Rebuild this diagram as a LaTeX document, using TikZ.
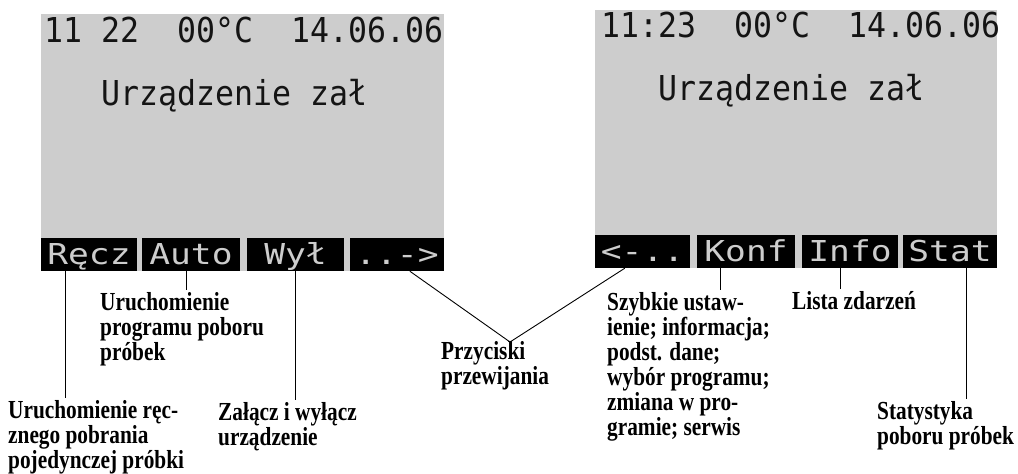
\documentclass[tikz,border=0pt]{standalone}
\usepackage{fontspec}
\setmainfont{Liberation Serif}
\newfontfamily\lcdfont[FakeStretch=0.92]{DejaVu Sans Mono}
\newfontfamily\keyfont[FakeStretch=1.2]{DejaVu Sans Mono}
\newfontfamily\labelfont[FakeStretch=0.82]{Liberation Serif}
\usetikzlibrary{calc}
\definecolor{lcdgrey}{RGB}{205,205,205}
\definecolor{lcdink}{RGB}{20,20,20}
% stacked caption lines, 25pt apart, baseline of the box = first line
\newcommand{\lbllines}[1]{\vtop{\let\\\cr\baselineskip=25pt\lineskiplimit=-30pt\lineskip=0pt
  \halign{##\hfil\cr#1\crcr}}}
\tikzset{
  screen/.style={fill=lcdgrey, draw=none},
  lcdtext/.style={anchor=base west, inner sep=0pt, text=lcdink,
    font=\lcdfont\fontsize{34.3}{36}\selectfont},
  softkey/.style={fill=black, draw=none, inner sep=0pt, text=lcdgrey,
    minimum width=96pt, minimum height=33pt, text height=21pt, text depth=2pt,
    font=\keyfont\fontsize{28.8}{30}\selectfont},
  caption/.style={anchor=base west, inner sep=0pt,
    font=\labelfont\bfseries\fontsize{26}{25}\selectfont},
  leader/.style={draw=black, line width=0.9pt}
}
\begin{document}
\begin{tikzpicture}[x=1pt, y=-1pt]
\useasboundingbox (0,0) rectangle (1018,474);

% left display
\fill[screen] (41,14) rectangle (444,271);
\node[lcdtext] (lTop) at (44,42) {11~22~~00°C~~14.06.06};
\node[lcdtext] (lMsg) at (101,105) {Urządzenie zał};
\node[softkey, minimum width=96pt]  (kRecz) at (89,254.5)   {Ręcz};
\node[softkey, minimum width=98pt]  (kAuto) at (191,254.5)  {Auto};
\node[softkey, minimum width=97pt]  (kWyl)  at (295.5,254.5){Wył};
\node[softkey, minimum width=94pt]  (kNext) at (397,254.5)  {..->};

% right display
\fill[screen] (595,10) rectangle (997,268);
\node[lcdtext] (rTop) at (601,37) {11:23~~00°C~~14.06.06};
\node[lcdtext] (rMsg) at (658,100) {Urządzenie zał};
\node[softkey, minimum width=95pt]  (kPrev) at (642.5,251.5) {<-..};
\node[softkey, minimum width=98pt]  (kKonf) at (746,251.5)   {Konf};
\node[softkey, minimum width=96pt]  (kInfo) at (850,251.5)   {Info};
\node[softkey, minimum width=94pt]  (kStat) at (950,251.5)   {Stat};

% captions
\node[caption] (lRecz) at (8,418)
  {\lbllines{Uruchomienie ręc-\\znego pobrania\\pojedynczej próbki}};
\node[caption] (lAuto) at (100,310)
  {\lbllines{Uruchomienie\\programu poboru\\próbek}};
\node[caption] (lWyl) at (218,420)
  {\lbllines{Załącz i wyłącz\\urządzenie}};
\node[caption] (lScroll) at (441,359)
  {\lbllines{Przyciski\\przewijania}};
\node[caption] (lKonf) at (607,310)
  {\lbllines{Szybkie ustaw-\\ienie; informacja;\\podst. dane;\\wybór programu;\\zmiana w pro-\\gramie; serwis}};
\node[caption] (lInfo) at (792,309) {Lista zdarzeń};
\node[caption] (lStat) at (877,419)
  {\lbllines{Statystyka\\poboru próbek}};

% leaders
\coordinate (scroll) at (510,342);
\draw[leader] ([xshift=25pt]kRecz.south west) coordinate (a1) -- ([yshift=2pt]a1 |- lRecz.north);
\draw[leader] ([xshift=45pt]kAuto.south west) coordinate (a2) -- ([yshift=2pt]a2 |- lAuto.north);
\draw[leader] ([xshift=49pt]kWyl.south west)  coordinate (a3) -- ([yshift=2pt]a3 |- lWyl.north);
\draw[leader] ([xshift=60pt]kNext.south west) -- (scroll);
\draw[leader] ([xshift=30pt]kPrev.south west) -- (scroll);
\draw[leader] ([xshift=24pt]kKonf.south west) coordinate (a4) -- ([yshift=2pt]a4 |- lKonf.north);
\draw[leader] ([xshift=39pt]kInfo.south west) coordinate (a5) -- ([yshift=2pt]a5 |- lInfo.north);
\draw[leader] ([xshift=64pt]kStat.south west) coordinate (a6) -- ([yshift=2pt]a6 |- lStat.north);
\end{tikzpicture}
\end{document}
